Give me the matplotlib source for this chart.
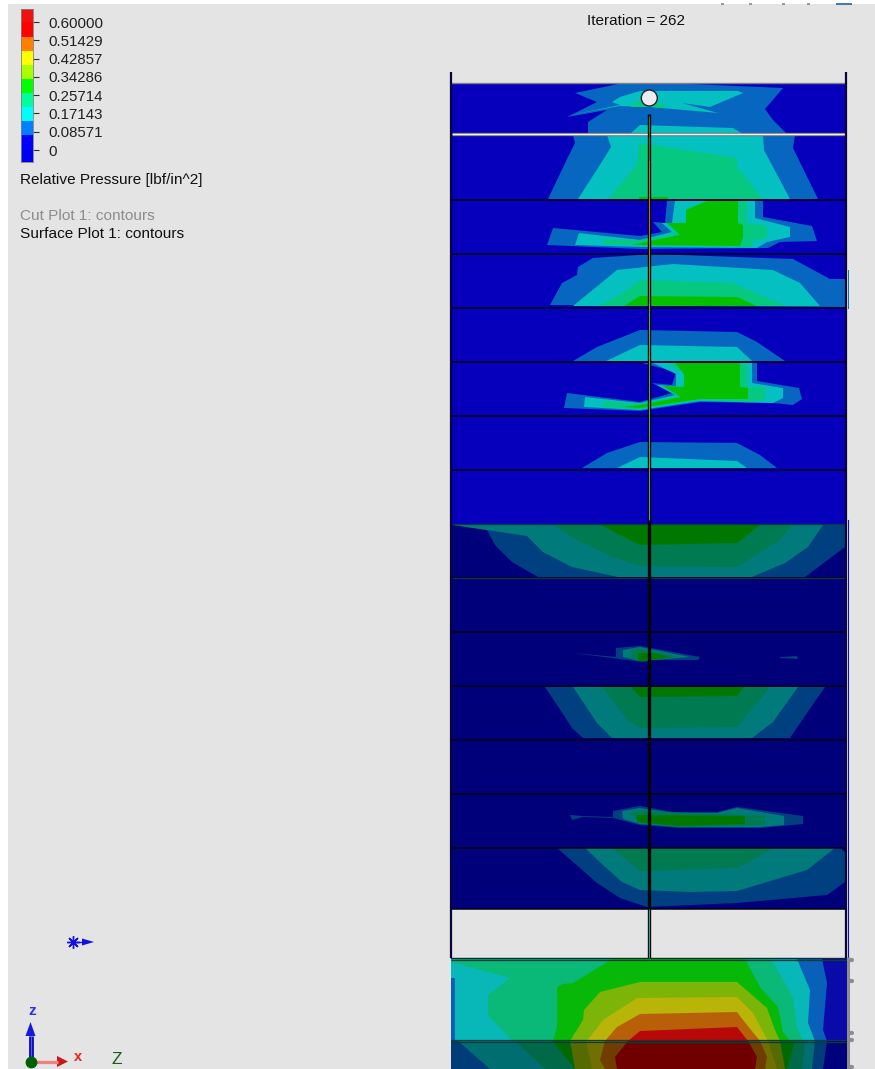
import matplotlib
matplotlib.use("Agg")
import matplotlib.pyplot as plt
from matplotlib.patches import Rectangle, Circle

plt.rcParams['font.family'] = ['Liberation Sans', 'DejaVu Sans']

# ---- legend data
tick_values = [0.6, 0.51429, 0.42857, 0.34286, 0.25714, 0.17143, 0.08571, 0.0]
tick_labels = ['0.60000', '0.51429', '0.42857', '0.34286', '0.25714', '0.17143', '0.08571', '0']
bar_edges = [-0.056, 0.0, 0.0702, 0.1358, 0.2015, 0.2671, 0.3328, 0.3984, 0.4641, 0.5297, 0.6, 0.661]
bar_colors = ['#0000f0', '#0000ff', '#0080ff', '#00ffff', '#00ff9c', '#00ff00', '#a8ff00', '#ffff00', '#ff8000', '#ff0000', '#f01010']

# ---- contour palettes
bright = ['#0600bc', '#0666c0', '#04c0c0', '#06c880', '#06c000']
dark = ['#00007a', '#004080', '#007a7a', '#007a50', '#007800']
sump = ['#0a0aa8', '#0860b8', '#08b8b8', '#0ab878', '#08b808', '#7cb408', '#b8b408', '#b86008', '#b80808']
sump_shaded = ['#00007c', '#003c78', '#006e70', '#006a48', '#006a00', '#556a00', '#707000', '#703c00', '#700000']

# ---- contour bands of each tray, lowest band first
tray0 = [
    [(623,83),(667,83),(783,88),(765,109),(773,120),(787,134),(588,134),(588,122),(607,110),(567,117),(597,102),(575,93)],
    [(620,97),(640,91),(738,91),(743,93),(710,107),(682,103),(718,113),(650,107),(620,106),(570,115),(620,105),(612,102)],
    [(630,107),(637,101),(660,102),(667,108),(650,107)],
]
tray0b = [
    [(630,134),(640,125),(733,128),(743,134)],
]
tray1 = [
    [(573,135),(795,135),(793,148),(818,199),(548,199),(568,157),(575,143)],
    [(607,135),(763,135),(764,150),(790,199),(578,199),(603,160),(611,147)],
    [(639,143),(737,158),(737,167),(763,199),(608,199),(637,165)],
    [(639,197),(668,197),(668,199),(639,199)],
]
tray2 = [
    [(667,201),(763,201),(763,217),(812,226),(817,241),(780,242),(768,248),(640,249),(547,245),(553,228),(640,236),(662,232),(653,222),(665,223)],
    [(675,201),(755,201),(755,218),(790,227),(790,237),(767,242),(757,248),(640,247),(575,245),(579,233),(640,240),(672,232),(662,223),(672,223)],
    [(687,208),(707,201),(747,201),(747,223),(767,226),(767,238),(753,240),(752,247),(630,245),(603,244),(604,239),(640,240),(678,233),(670,225),(685,223)],
    [(686,210),(707,201),(738,201),(738,223),(743,225),(743,237),(740,246),(632,245),(640,243),(680,235),(667,223),(686,223)],
]
tray3 = [
    [(578,267),(593,258),(653,254),(793,259),(830,279),(845,279),(845,307),(550,305),(562,283),(577,275)],
    [(573,306),(617,270),(673,264),(773,270),(800,283),(820,306)],
    [(599,306),(623,293),(640,280),(733,283),(787,306)],
    [(624,306),(640,296),(737,297),(757,306)],
]
tray4 = [
    [(573,361),(597,347),(640,330),(737,332),(757,342),(785,361)],
    [(606,361),(640,345),(737,347),(752,361)],
]
tray5 = [
    [(650,363),(757,363),(757,381),(799,388),(802,399),(793,405),(773,403),(700,402),(640,411),(564,408),(567,393),(640,402),(672,393),(652,383),(672,385),(676,372),(642,363)],
    [(662,363),(752,363),(752,383),(783,388),(783,398),(773,403),(700,401),(640,410),(584,407),(585,397),(640,403),(675,395),(657,385),(676,386),(676,374),(653,363)],
    [(673,363),(747,363),(748,387),(765,387),(765,400),(748,402),(700,400),(640,409),(603,407),(604,401),(640,404),(680,396),(662,386),(685,387),(685,374),(667,363)],
    [(675,363),(740,363),(740,387),(748,388),(748,399),(700,399),(640,408),(623,407),(640,405),(681,397),(663,386),(684,387),(684,374)],
]
tray6 = [
    [(582,468),(607,453),(640,442),(737,443),(760,455),(777,468)],
    [(617,468),(640,457),(737,461),(747,468)],
]
tray8 = [
    [(453,525),(845,525),(845,547),(805,577),(538,577),(512,562),(495,545),(487,530)],
    [(453,525),(823,525),(808,547),(785,563),(752,577),(618,577),(572,567),(543,552),(527,536)],
    [(553,525),(792,525),(780,540),(737,567),(640,566),(612,557),(577,540)],
    [(601,525),(760,525),(737,543),(640,545),(620,535)],
]
tray10 = [
    [(573,653),(616,657),(616,648),(640,646),(700,657),(698,660),(653,660),(643,662)],
    [(623,650),(640,647),(690,657),(653,660),(640,661),(623,657)],
    [(631,650),(640,649),(680,657),(653,660),(640,661),(631,659)],
    [(638,653),(653,653),(670,657),(653,660),(638,661)],
]
tray10_sliver = [[(780,657),(797,656),(798,659),(780,658)]]
tray11 = [
    [(545,687),(825,687),(807,713),(790,738),(583,738),(572,728),(565,717)],
    [(573,687),(798,687),(773,722),(752,738),(612,738),(597,723)],
    [(602,687),(770,687),(737,727),(640,728),(628,720)],
    [(631,687),(744,687),(737,696),(640,697)],
]
tray13 = [
    [(613,811),(640,806),(673,812),(717,812),(737,807),(803,816),(803,824),(760,828),(680,828),(640,825),(613,818),(583,817),(572,820),(570,815),(583,816),(613,817)],
    [(622,811),(640,808),(673,813),(717,813),(737,808),(784,816),(784,825),(760,827),(680,827),(640,824),(623,819)],
    [(630,813),(640,811),(717,814),(765,816),(765,825),(680,827),(640,823)],
    [(637,815),(745,816),(745,824),(680,826),(637,822)],
]
tray14 = [
    [(557,848),(840,848),(845,852),(845,882),(827,895),(737,903),(647,907),(620,898),(597,883),(580,868)],
    [(585,848),(835,848),(807,870),(737,891),(690,892),(640,890),(622,882),(603,865)],
    [(612,848),(773,848),(753,860),(737,868),(640,871)],
]
sump_bands = [
    [(451,959),(822,959),(827,983),(823,1030),(827,1041),(451,1041)],
    [(451,959),(797,959),(810,990),(808,1023),(815,1041),(455,1041),(455,978),(451,978)],
    [(451,962),(457,959),(771,959),(793,997),(797,1027),(803,1041),(512,1041),(488,1015),(488,995),(510,978)],
    [(612,959),(745,959),(760,987),(778,1007),(783,1032),(790,1041),(553,1041),(557,1027),(557,987),(563,984),(573,983)],
    [(640,982),(737,982),(767,1008),(775,1030),(780,1041),(570,1041),(583,1020),(584,1010),(600,992)],
    [(637,998),(737,997),(753,1013),(768,1041),(587,1041),(603,1020)],
    [(640,1014),(737,1012),(743,1020),(760,1041),(605,1041),(617,1027)],
    [(640,1031),(737,1027),(748,1041),(628,1041)],
]
sump_shaded_bands = [
    [(451,1041),(827,1041),(823,1069),(451,1069)],
    [(458,1041),(815,1041),(812,1069),(490,1069)],
    [(515,1041),(805,1041),(802,1069),(545,1069)],
    [(552,1041),(795,1041),(787,1069),(575,1069)],
    [(570,1041),(780,1041),(785,1069),(575,1069)],
    [(586,1041),(768,1041),(777,1069),(592,1069)],
    [(605,1041),(760,1041),(767,1057),(765,1069),(605,1069),(600,1060)],
    [(628,1041),(748,1041),(757,1057),(755,1069),(617,1069),(615,1057)],
]

bright_trays = [tray1, tray0, tray2, tray3, tray4, tray5, tray6]
dark_trays = [tray8, tray10, tray11, tray13, tray14]

divider_rows = [199.5, 253.5, 307.5, 361.5, 415.5, 469.5, 577.5, 631.5, 685.5, 739.5, 793.5, 847.5, 908.5]
teal_rows = [524, 578]
sump_rows = [959.5, 1040, 1042]
edge_bumps = [960, 981, 1033, 1040, 1067]
toolbar_marks = [722, 750, 783, 808]

fig = plt.figure(figsize=(8.75, 10.69), dpi=100, facecolor='white')
ax = fig.add_axes([0, 0, 1, 1])
ax.set_xlim(0, 875)
ax.set_ylim(1069, 0)
ax.axis('off')

ax.add_patch(Rectangle((8, 4), 867, 1065, fc='#e4e4e4', ec='none'))

# toolbar remnants at the top edge
for x in toolbar_marks:
    ax.plot([x - 1.5, x + 1.5], [3.5, 3.5], color='#7090a8', lw=1.2, solid_capstyle='butt')
ax.plot([836, 852], [3.5, 3.5], color='#4a7aa0', lw=1.5, solid_capstyle='butt')

# tower background
ax.add_patch(Rectangle((452, 83), 394, 386.5, fc=bright[0], ec='none'))
ax.add_patch(Rectangle((452, 469.5), 394, 54.5, fc=bright[0], ec='none'))
ax.add_patch(Rectangle((452, 524), 394, 384.5, fc=dark[0], ec='none'))


def draw(bands, palette, start=1):
    for i, poly in enumerate(bands):
        ax.fill([p[0] for p in poly], [p[1] for p in poly], fc=palette[i + start], ec='none', lw=0)


for tray in bright_trays:
    draw(tray, bright)
draw(tray0b, bright, 2)
for tray in dark_trays:
    draw(tray, dark)
draw(tray10_sliver, dark)

# sump
ax.add_patch(Rectangle((451, 959), 395.5, 82, fc=sump[0], ec='none'))
ax.add_patch(Rectangle((451, 1041), 395.5, 28, fc=sump_shaded[0], ec='none'))
draw(sump_bands, sump)
draw(sump_shaded_bands, sump_shaded)

# tray lines
for y in divider_rows:
    ax.plot([452, 846], [y, y], color='#03030f', lw=1.1, solid_capstyle='butt')
for y in teal_rows:
    ax.plot([452, 846], [y, y], color='#0a3a3a', lw=0.9, solid_capstyle='butt')
for y in sump_rows:
    ax.plot([451, 846], [y, y], color='#0c3c3c', lw=0.9, solid_capstyle='butt')
ax.plot([451, 846], [83, 83], color='#808080', lw=1.0)
ax.plot([452, 846], [134, 134], color='#777777', lw=2.4, solid_capstyle='butt')
ax.plot([452, 846], [134, 134], color='#f2f2f2', lw=1.0, solid_capstyle='butt')

# shell walls
ax.plot([451, 451], [72, 958], color='#06063a', lw=1.6, solid_capstyle='butt')
ax.plot([846, 846], [72, 958], color='#06063a', lw=1.6, solid_capstyle='butt')
ax.plot([847.5, 847.5], [270, 308], color='#1070a0', lw=0.7)
ax.plot([847.5, 847.5], [520, 958], color='#1010b0', lw=0.8)
ax.plot([451, 846], [958, 958], color='#102a30', lw=1.0)

# central downcomer
ax.plot([649.2, 649.2], [114, 958], color='#050505', lw=2.4, solid_capstyle='butt')
ax.plot([649.2, 649.2], [116, 160], color='#2f7a2f', lw=0.8, solid_capstyle='butt')
ax.plot([649.2, 649.2], [160, 300], color='#b07a10', lw=0.8, solid_capstyle='butt')
ax.plot([649.2, 649.2], [300, 520], color='#5f9a6a', lw=0.8, solid_capstyle='butt')
ax.plot([649.2, 649.2], [909, 958], color='#2f9a9a', lw=0.8, solid_capstyle='butt')
ax.add_patch(Circle((649.3, 98), 8, fc='#ececec', ec='#202030', lw=1.0, zorder=5))

# gray edge of sump with its small bumps
ax.plot([848, 848], [957, 1069], color='#8c8c8c', lw=2.2, solid_capstyle='butt')
for y in edge_bumps:
    ax.plot([849, 851.5], [y, y], color='#8c8c8c', lw=3, solid_capstyle='round')

# legend colour bar through its own axes
cax = fig.add_axes([21 / 875, 1 - 162 / 1069, 12 / 875, 153 / 1069])
for lo, hi, c in zip(bar_edges[:-1], bar_edges[1:], bar_colors):
    cax.bar(0, hi - lo, bottom=lo, width=1, color=c, lw=0)
cax.set_xlim(-0.5, 0.5)
cax.set_ylim(bar_edges[0], bar_edges[-1])
cax.set_xticks([])
cax.yaxis.tick_right()
cax.set_yticks(tick_values)
cax.set_yticklabels(tick_labels, fontsize=10.8, color='#202020')
cax.tick_params(axis='y', length=4, width=0.8, color='#303030', pad=7)
for s in cax.spines.values():
    s.set_color('#808080')
    s.set_linewidth(0.6)

ax.text(20, 180, 'Relative Pressure [lbf/in^2]', fontsize=11.1, color='#101010', va='center')
ax.text(20, 216, 'Cut Plot 1: contours', fontsize=11.1, color='#8c8c8c', va='center')
ax.text(20, 233.5, 'Surface Plot 1: contours', fontsize=11.1, color='#101010', va='center')
ax.text(636, 21, 'Iteration = 262', fontsize=11, color='#101010', va='center', ha='center')

# triad
ax.plot([30.5, 30.5], [1036, 1062], color='#0000b0', lw=3.4, solid_capstyle='butt')
ax.plot([30.5, 30.5], [1036, 1062], color='#5a5af0', lw=1.0, solid_capstyle='butt')
ax.fill([25.5, 30.5, 35.5], [1036, 1022, 1036], fc='#1818d8', ec='none')
ax.plot([32, 58], [1061.5, 1061.5], color='#f08080', lw=2.4, solid_capstyle='butt')
ax.fill([57, 68, 57], [1056, 1061.5, 1067], fc='#c81818', ec='none')
ax.plot([30.5], [1062], 'o', color='#006000', ms=7.5)
ax.text(32.5, 1011, 'z', color='#3030e0', fontsize=11, ha='center', va='center', fontweight='bold')
ax.text(78, 1057, 'x', color='#f02020', fontsize=10.5, ha='center', va='center', fontweight='bold')
ax.text(116.5, 1059, 'Z', color='#1a5a1a', fontsize=12.5, ha='center', va='center')
# gravity marker
ax.plot([73], [942], marker=(8, 2, 0), color='#1010e0', ms=9, mew=1.0)
ax.plot([75, 84], [942, 942], color='#1010e0', lw=1.0, solid_capstyle='butt')
ax.fill([82, 94, 82], [938.5, 942, 945.5], fc='#1010e0', ec='none')

fig.savefig('out.png', dpi=100, facecolor='white')
